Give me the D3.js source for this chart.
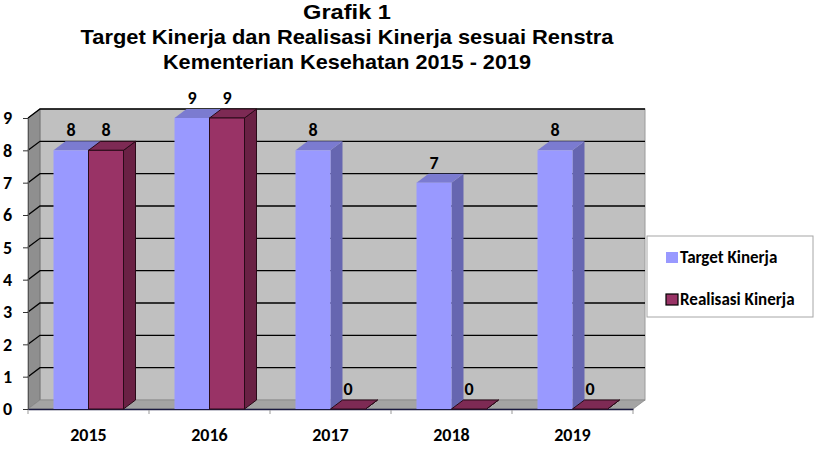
<!DOCTYPE html>
<html>
<head>
<meta charset="utf-8">
<script src="https://cdn.jsdelivr.net/npm/d3@7/dist/d3.min.js"></script>
<style>
  body { margin: 0; background: #fff; }
  svg { display: block; }
  .lbl { font-family: Carlito, Lato, "Open Sans", sans-serif; font-weight: bold; fill: #000; }
  .ttl { font-family: "Liberation Sans", Arimo, Arial, sans-serif; font-weight: bold; fill: #000; }
</style>
</head>
<body>
<div id="chart"></div>
<script>
// data
var years = ["2015", "2016", "2017", "2018", "2019"];
var seriesNames = ["Target Kinerja", "Realisasi Kinerja"];
var targetKinerja = [8, 9, 8, 7, 8];
var realisasiKinerja = [8, 9, 0, 0, 0];
var yTicks = [0, 1, 2, 3, 4, 5, 6, 7, 8, 9];
var titleLines = ["Grafik 1", "Target Kinerja dan Realisasi Kinerja sesuai Renstra", "Kementerian Kesehatan 2015 - 2019"];

var W = 825, H = 458;
var depth = {dx: 12, dy: -9};
var colors = [
    {front: "#9999ff", side: "#6666b0", top: "#7b7bd0", stroke: "none"},
    {front: "#993366", side: "#6a2144", top: "#7d2a54", stroke: "#2a0a18"}
];

var svg = d3.select("#chart").append("svg")
    .attr("width", W)
    .attr("height", H);

//title
var titleSpec = [{y: 19, len: 88}, {y: 44, len: 533}, {y: 69, len: 368}];
svg.selectAll(".ttl").data(titleLines).enter().append("text")
    .attr("class", "ttl")
    .attr("x", 347)
    .attr("y", function(d, i){ return titleSpec[i].y; })
    .attr("text-anchor", "middle")
    .attr("font-size", "20.5px")
    .attr("textLength", function(d, i){ return titleSpec[i].len; })
    .attr("lengthAdjust", "spacingAndGlyphs")
    .text(function(d){ return d; });

//scales
var x = d3.scaleBand().domain(years).range([28, 633]);
var xs = d3.scaleBand().domain([0, 1]).range([25.5, 95.5]);
var y = d3.scaleLinear().domain([0, 9]).range([409, 118]);

var x0 = x.range()[0], x1 = x.range()[1];
var yTop = y(9), yBot = y(0);

function pts(arr){ return arr.map(function(p){ return p.join(","); }).join(" "); }

//back wall
svg.append("rect")
    .attr("x", x0 + depth.dx)
    .attr("y", yTop + depth.dy)
    .attr("width", x1 - x0)
    .attr("height", yBot - yTop)
    .attr("fill", "#c0c0c0")
    .attr("stroke", "#9a9a9a")
    .attr("stroke-width", 1);

//left side wall
svg.append("polygon")
    .attr("points", pts([[x0, yTop], [x0 + depth.dx, yTop + depth.dy], [x0 + depth.dx, yBot + depth.dy], [x0, yBot]]))
    .attr("fill", "#8f8f8f")
    .attr("stroke", "#6e6e6e")
    .attr("stroke-width", 0.8);

//floor
svg.append("polygon")
    .attr("points", pts([[x0, yBot], [x0 + depth.dx, yBot + depth.dy], [x1 + depth.dx, yBot + depth.dy], [x1, yBot]]))
    .attr("fill", "#a4a4a4")
    .attr("stroke", "#8a8a8a")
    .attr("stroke-width", 0.8);

//gridlines
yTicks.forEach(function(v){
    if (v == 0) return;
    var yy = y(v);
    svg.append("polyline")
        .attr("points", pts([[x0, yy], [x0 + depth.dx, yy + depth.dy], [x1 + depth.dx, yy + depth.dy]]))
        .attr("fill", "none")
        .attr("stroke", "#000")
        .attr("stroke-width", 1.3);
});

//y axis
var yAxis = svg.append("g")
    .attr("transform", "translate(" + x0 + ",0)")
    .call(d3.axisLeft(y).tickValues(yTicks).tickSize(5).tickFormat(d3.format("d")));
yAxis.select(".domain").attr("stroke", "#555");
yAxis.selectAll(".tick line").attr("stroke", "#333");
yAxis.selectAll("text")
    .attr("class", "lbl")
    .attr("x", -25)
    .attr("text-anchor", "start")
    .attr("font-size", "18px")
    .attr("font-family", null);

//x axis
var xAxis = svg.append("g")
    .attr("transform", "translate(0," + yBot + ")")
    .call(d3.axisBottom(x).tickSize(0).tickPadding(19));
xAxis.select(".domain").attr("stroke", "#1a1a40").attr("stroke-width", 1.3);
xAxis.selectAll("text")
    .attr("class", "lbl")
    .attr("font-size", "18px")
    .attr("font-family", null);
svg.selectAll(".xtick").data(years.concat(["end"])).enter().append("line")
    .attr("class", "xtick")
    .attr("x1", function(d){ return d == "end" ? x1 : x(d); })
    .attr("x2", function(d){ return d == "end" ? x1 : x(d); })
    .attr("y1", yBot + 1)
    .attr("y2", yBot + 5)
    .attr("stroke", "#999");

//bars
var barData = [];
years.forEach(function(yr, i){
    [targetKinerja[i], realisasiKinerja[i]].forEach(function(v, s){
        barData.push({year: yr, series: s, value: v});
    });
});

var bars = svg.selectAll(".bar").data(barData).enter().append("g")
    .attr("class", "bar");

bars.each(function(d){
    var g = d3.select(this);
    var c = colors[d.series];
    var bx = x(d.year) + xs(d.series), bw = xs.bandwidth();
    var by = y(d.value), b0 = y(0);
    var sw = d.series == 1 ? 1 : 0;
    //side face
    g.append("polygon")
        .attr("points", pts([[bx + bw, by], [bx + bw + depth.dx, by + depth.dy], [bx + bw + depth.dx, b0 + depth.dy], [bx + bw, b0]]))
        .attr("fill", c.side)
        .attr("stroke", c.stroke)
        .attr("stroke-width", sw);
    //top face
    g.append("polygon")
        .attr("points", pts([[bx, by], [bx + depth.dx, by + depth.dy], [bx + bw + depth.dx, by + depth.dy], [bx + bw, by]]))
        .attr("fill", c.top)
        .attr("stroke", c.stroke)
        .attr("stroke-width", sw);
    //front face
    if (d.value > 0) {
        g.append("rect")
            .attr("x", bx)
            .attr("y", by)
            .attr("width", bw)
            .attr("height", b0 - by)
            .attr("fill", c.front)
            .attr("stroke", c.stroke)
            .attr("stroke-width", sw);
    }
    //value label
    g.append("text")
        .attr("class", "lbl")
        .attr("x", bx + bw / 2)
        .attr("y", by - 14)
        .attr("text-anchor", "middle")
        .attr("font-size", "18px")
        .text(d.value);
});

//legend
var legend = svg.append("g").attr("transform", "translate(647,236)");
legend.append("rect")
    .attr("width", 166)
    .attr("height", 81)
    .attr("fill", "#fff")
    .attr("stroke", "#a6a6a6");
var items = legend.selectAll(".item").data(seriesNames).enter().append("g")
    .attr("class", "item")
    .attr("transform", function(d, i){ return "translate(19," + (16 + i * 42) + ")"; });
items.append("rect")
    .attr("width", 12)
    .attr("height", 11)
    .attr("fill", function(d, i){ return colors[i].front; })
    .attr("stroke", function(d, i){ return i == 1 ? "#000" : "none"; })
    .attr("stroke-width", 1.2);
items.append("text")
    .attr("class", "lbl")
    .attr("x", 14)
    .attr("y", 11)
    .attr("font-size", "17px")
    .text(function(d){ return d; });
</script>
</body>
</html>
